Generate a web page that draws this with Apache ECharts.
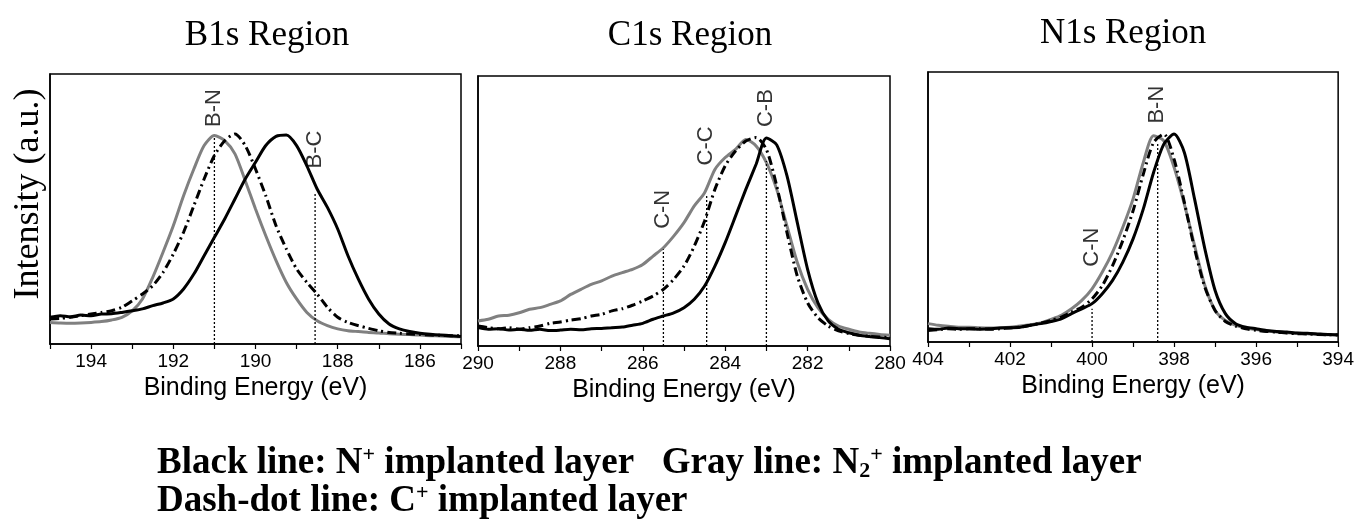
<!DOCTYPE html>
<html>
<head>
<meta charset="utf-8">
<script src="https://cdn.jsdelivr.net/npm/echarts@6/dist/echarts.min.js"></script>
<style>
html,body{margin:0;padding:0;background:#fff;}
#chart{width:1357px;height:519px;}
</style>
</head>
<body>
<div id="chart"></div>
<script>
// ---------------- DATA ----------------
const panelTitles = ['B1s Region', 'C1s Region', 'N1s Region'];
const seriesNames = ['N2+ implanted (gray)', 'N+ implanted (black)', 'C+ implanted (dash-dot)'];

const b1sEnergy = [195,194.75,194.5,194.25,194,193.75,193.5,193.25,193,192.75,192.5,192.25,192,191.75,191.5,191.25,191,190.75,190.5,190.25,190,189.75,189.5,189.25,189,188.75,188.5,188.25,188,187.75,187.5,187.25,187,186.75,186.5,186.25,186,185.75,185.5,185.25,185];
const b1sBlack = [9.9,10.5,10.1,10.7,10.5,11.1,11.2,11.7,12.3,13.0,14.2,15.2,16.7,20.4,25.9,32.7,39.5,46.3,53.7,61.1,67.3,73.5,76.9,77.4,73.5,66.0,57.4,50.6,42.6,32.7,24.1,16.7,11.1,7.4,5.6,4.6,4.0,3.6,3.3,3.1,2.8];
const b1sGray = [8.0,7.8,7.7,7.8,8.0,8.3,8.9,9.9,12.3,16.7,24.7,34.0,43.8,54.9,64.8,73.5,77.2,75.3,70.4,60.5,50.0,40.1,30.9,22.8,16.7,11.7,8.6,6.8,5.6,4.9,4.6,4.3,4.1,3.8,3.6,3.5,3.3,3.1,3.0,2.8,2.7];
const b1sDash = [9.3,9.5,9.9,10.5,11.1,11.7,12.3,13.6,16.0,18.5,21.6,26.5,33.3,41.4,51.2,61.1,69.8,75.3,77.8,73.5,64.8,54.9,43.8,35.2,27.8,22.8,18.5,13.6,9.9,8.0,6.8,5.8,4.9,4.3,4.0,3.7,3.5,3.3,3.2,3.1,3.0];

const c1sEnergy = [290,289.75,289.5,289.25,289,288.75,288.5,288.25,288,287.75,287.5,287.25,287,286.75,286.5,286.25,286,285.75,285.5,285.25,285,284.75,284.5,284.25,284,283.75,283.5,283.25,283,282.75,282.5,282.25,282,281.75,281.5,281.25,281,280.75,280.5,280.25,280];
const c1sBlack = [6.8,6.2,6.4,5.9,6.2,5.8,6.2,5.7,5.9,6.2,6.0,6.4,6.5,6.8,7.0,7.7,8.4,9.9,11.1,12.3,14.2,17.3,22.2,29.6,38.3,48.1,58.0,67.3,77.0,74.5,63.0,45.7,28.4,16.0,9.3,6.2,4.9,4.0,3.5,3.1,2.7];
const c1sGray = [9.3,9.9,11.1,11.4,12.3,13.6,14.2,15.4,16.7,19.1,21.0,22.8,24.1,25.9,27.2,28.4,30.2,33.3,36.4,40.7,45.7,51.9,56.8,65.4,69.8,72.8,76.5,74.1,67.9,58.0,44.4,30.9,21.0,14.2,9.9,7.4,6.2,5.2,4.7,4.3,4.0];
const c1sDash = [7.4,6.8,6.4,6.8,6.2,6.8,7.4,8.4,8.9,9.6,10.1,11.1,11.7,13.0,13.8,15.1,16.7,18.5,21.0,24.7,29.6,37.0,46.3,58.0,66.7,72.2,75.9,77.2,72.8,59.3,42.0,25.9,16.0,10.5,7.4,5.6,4.6,4.0,3.6,3.3,3.1];

const n1sEnergy = [404,403.75,403.5,403.25,403,402.75,402.5,402.25,402,401.75,401.5,401.25,401,400.75,400.5,400.25,400,399.75,399.5,399.25,399,398.75,398.5,398.25,398,397.75,397.5,397.25,397,396.75,396.5,396.25,396,395.75,395.5,395.25,395,394.75,394.5,394.25,394];
const n1sBlack = [4.9,4.7,5.2,4.9,4.9,4.7,4.9,5.2,5.3,5.5,6.2,6.8,7.6,8.6,10.5,12.3,14.2,17.9,22.8,29.6,38.2,49.3,62.8,73.3,77.0,70.2,52.9,34.5,19.1,10.5,6.8,5.5,4.9,4.3,3.9,3.7,3.3,3.2,3.0,2.8,2.7];
const n1sGray = [6.8,6.2,5.8,5.5,5.5,5.3,5.2,5.3,5.5,5.9,6.4,7.1,8.4,9.9,12.3,15.4,19.7,25.9,33.3,42.5,53.0,66.5,76.4,74.5,64.7,51.1,35.7,20.9,11.7,8.0,6.2,5.2,4.6,4.1,3.7,3.4,3.2,3.1,2.8,2.7,2.6];
const n1sDash = [4.3,4.6,4.9,4.7,4.9,4.9,4.7,4.9,5.2,5.5,6.2,7.0,8.0,9.2,11.1,12.9,16.0,20.9,28.3,37.6,48.6,62.2,73.9,77.0,67.7,51.7,34.5,20.3,11.7,7.6,5.9,4.9,4.3,3.9,3.7,3.3,3.1,3.0,2.8,2.7,2.6];

// axis ranges [min, max] and tick step
const xRanges = [[185,195],[280,290],[394,404]];
const xLabelStep = 2;

// peak-assignment markers: name, energy, top of dotted line, base of label (intensity units)
const b1sPeakNames = ['B-N','B-C'];
const b1sPeakE = [191.0,188.55];
const b1sPeakTop = [77.0,56.2];
const b1sPeakLabelY = [80.2,64.8];

const c1sPeakNames = ['C-N','C-C','C-B'];
const c1sPeakE = [285.5,284.45,283.0];
const c1sPeakTop = [35.8,55.6,68.5];
const c1sPeakLabelY = [43.2,66.7,80.9];

const n1sPeakNames = ['C-N','B-N'];
const n1sPeakE = [400.0,398.4];
const n1sPeakTop = [12.3,73.9];
const n1sPeakLabelY = [27.7,80.7];

// ---------------- BUILD ----------------
const panels = [
  {E:b1sEnergy, black:b1sBlack, gray:b1sGray, dash:b1sDash, pn:b1sPeakNames, pe:b1sPeakE, pt:b1sPeakTop, pl:b1sPeakLabelY},
  {E:c1sEnergy, black:c1sBlack, gray:c1sGray, dash:c1sDash, pn:c1sPeakNames, pe:c1sPeakE, pt:c1sPeakTop, pl:c1sPeakLabelY},
  {E:n1sEnergy, black:n1sBlack, gray:n1sGray, dash:n1sDash, pn:n1sPeakNames, pe:n1sPeakE, pt:n1sPeakTop, pl:n1sPeakLabelY}
];
const gridPos = [
  {left:50, top:74, width:411, height:270},
  {left:478, top:76, width:412, height:270},
  {left:928, top:72, width:411, height:270}
];
const titleCenters = [[267,36],[690,36],[1123,34]];

const zip = (a,b) => a.map((v,i)=>[v,b[i]]);

const grids = [], xAxes = [], yAxes = [], series = [];
panels.forEach((p, i) => {
  grids.push(Object.assign({show:true, borderColor:'#000', borderWidth:1.5, backgroundColor:'transparent'}, gridPos[i]));
  xAxes.push({
    type:'value', gridIndex:i, inverse:true, min:xRanges[i][0], max:xRanges[i][1], interval:1,
    axisLine:{show:true, onZero:false, lineStyle:{color:'#000', width:1.5}},
    axisTick:{show:true, inside:false, length:5, lineStyle:{color:'#000', width:1.2}},
    splitLine:{show:false},
    axisLabel:{color:'#000', fontFamily:'Liberation Sans', fontSize:19, margin:8,
      formatter: v => (Math.round(v) % xLabelStep === 0 ? String(v) : '')},
    name:'Binding Energy (eV)', nameLocation:'middle', nameGap:24,
    nameTextStyle:{color:'#000', fontFamily:'Liberation Sans', fontSize:25}
  });
  yAxes.push({
    type:'value', gridIndex:i, min:0, max:100,
    axisLine:{show:true, lineStyle:{color:'#000', width:1.5}},
    axisTick:{show:false}, axisLabel:{show:false}, splitLine:{show:false},
    name: i === 0 ? 'Intensity (a.u.)' : '', nameLocation:'middle', nameRotate:90, nameGap:3,
    nameTextStyle:{color:'#000', fontFamily:'Liberation Serif', fontSize:36, padding:[0,0,0,30]}
  });
  const common = {type:'line', xAxisIndex:i, yAxisIndex:i, showSymbol:false, symbol:'none', smooth:0.25, silent:true};
  series.push(Object.assign({}, common, {name:seriesNames[0], data:zip(p.E,p.gray), lineStyle:{color:'#808080', width:3}, z:2}));
  series.push(Object.assign({}, common, {name:seriesNames[1], data:zip(p.E,p.black), lineStyle:{color:'#000', width:3}, z:3}));
  series.push(Object.assign({}, common, {name:seriesNames[2], data:zip(p.E,p.dash), lineStyle:{color:'#000', width:3, type:[9,4,2,4]}, z:4}));
  p.pe.forEach((e, k) => {
    series.push({type:'line', xAxisIndex:i, yAxisIndex:i, symbol:'none', silent:true, z:5,
      data:[[e,0],[e,p.pt[k]]], lineStyle:{color:'#000', width:1.3, type:[2,2]}});
  });
  series.push({type:'scatter', xAxisIndex:i, yAxisIndex:i, symbolSize:1, silent:true, z:6,
    itemStyle:{color:'rgba(0,0,0,0)'},
    data:p.pe.map((e,k)=>({name:p.pn[k], value:[e,p.pl[k]]})),
    label:{show:true, position:[0,0], rotate:90, align:'left', verticalAlign:'middle', formatter:'{b}',
      color:'#000', fontFamily:'Liberation Sans', fontSize:22}
  });
});

const graphics = panelTitles.map((t,i)=>({
  type:'text', x:titleCenters[i][0], y:titleCenters[i][1], silent:true,
  style:{text:t, align:'center', verticalAlign:'middle', fill:'#000', fontFamily:'Liberation Serif', fontSize:35}
}));
const legendRich = {
  b:{fontFamily:'Liberation Serif', fontWeight:'bold', fontSize:37, lineHeight:38, fill:'#000', color:'#000'},
  sup:{fontFamily:'Liberation Serif', fontWeight:'bold', fontSize:22, lineHeight:38, verticalAlign:'top', fill:'#000', color:'#000'},
  sub:{fontFamily:'Liberation Serif', fontWeight:'bold', fontSize:22, lineHeight:38, verticalAlign:'bottom', fill:'#000', color:'#000'}
};
graphics.push({type:'text', x:157, y:444, silent:true,
  style:{text:'{b|Black line: N}{sup|+}{b| implanted layer   Gray line: N}{sub|2}{sup|+}{b| implanted layer}', rich:legendRich, fill:'#000'}});
graphics.push({type:'text', x:157, y:482, silent:true,
  style:{text:'{b|Dash-dot line: C}{sup|+}{b| implanted layer}', rich:legendRich, fill:'#000'}});

const chart = echarts.init(document.getElementById('chart'), null, {renderer:'canvas'});
chart.setOption({
  animation:false,
  backgroundColor:'#fff',
  grid:grids, xAxis:xAxes, yAxis:yAxes, series:series,
  graphic:graphics
});
</script>
</body>
</html>
